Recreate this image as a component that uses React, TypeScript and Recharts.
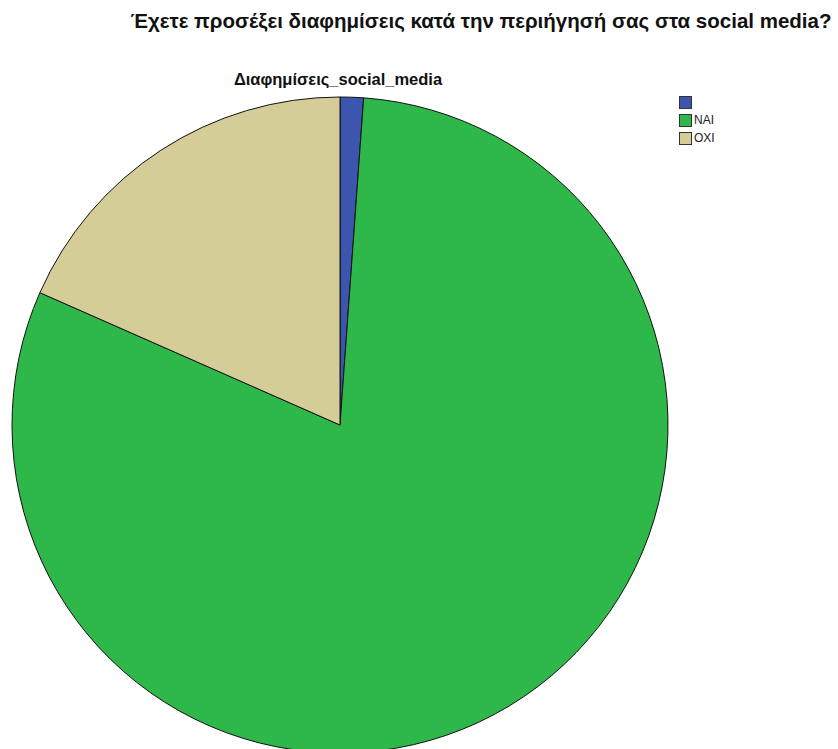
import { Cell, Legend, Pie, PieChart } from 'recharts';

const categories = ['', 'NAI', 'OXI'];
const counts = [1, 70, 16];
const colors = ['#3d56ad', '#2fb84a', '#d4cd98'];

const data = categories.map((name, i) => ({ name, value: counts[i] }));

const renderLegend = () => (
	<div style={{ fontFamily: 'Arial, "Liberation Sans", sans-serif', fontSize: 12, color: '#222' }}>
		{categories.map((name, i) => (
			<div key={i} style={{ display: 'flex', alignItems: 'center', height: 18 }}>
				<span
					style={{
						display: 'inline-block',
						width: 11,
						height: 11,
						background: colors[i],
						border: '1px solid #333',
						marginRight: 2
					}}
				/>
				<span>{name}</span>
			</div>
		))}
	</div>
);

export default function App() {
	return (
		<div style={{ position: 'absolute', left: 0, top: 0, width: 838, height: 749, background: '#fff', overflow: 'hidden' }}>
			<div
				style={{
					position: 'absolute',
					left: 0,
					width: 962,
					top: 9,
					textAlign: 'center',
					fontFamily: 'Arial, "Liberation Sans", sans-serif',
					fontWeight: 'bold',
					fontSize: 20.5,
					color: '#111',
					whiteSpace: 'nowrap'
				}}
			>
				Έχετε προσέξει διαφημίσεις κατά την περιήγησή σας στα social media?
			</div>
			<div
				style={{
					position: 'absolute',
					left: 0,
					width: 676,
					top: 70,
					textAlign: 'center',
					fontFamily: 'Arial, "Liberation Sans", sans-serif',
					fontWeight: 'bold',
					fontSize: 16.5,
					color: '#111',
					whiteSpace: 'nowrap'
				}}
			>
				Διαφημίσεις_social_media
			</div>
			<PieChart width={838} height={749} style={{ position: 'absolute', left: 0, top: 0 }}>
				<Pie
					data={data}
					dataKey="value"
					nameKey="name"
					cx={335}
					cy={420}
					outerRadius={328}
					startAngle={90}
					endAngle={-270}
					stroke="#111"
					strokeWidth={1}
					isAnimationActive={false}
					label={false}
					labelLine={false}
				>
					{data.map((d, i) => (
						<Cell key={d.name + i} fill={colors[i]} />
					))}
				</Pie>
				<Legend
					layout="vertical"
					align="right"
					verticalAlign="top"
					content={renderLegend}
					wrapperStyle={{ left: 679, top: 93, width: 60 }}
				/>
			</PieChart>
		</div>
	);
}
